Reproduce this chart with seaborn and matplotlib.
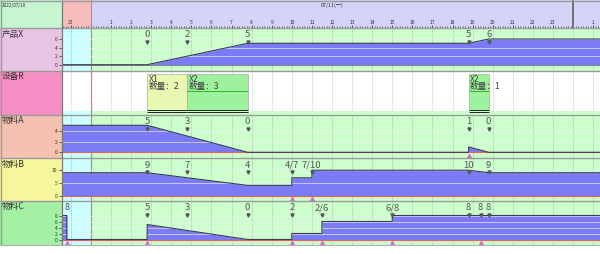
import numpy as np
import pandas as pd
import matplotlib
matplotlib.use("Agg")
import matplotlib.pyplot as plt
import seaborn as sns
from matplotlib.patches import Rectangle

sns.set_theme(style="white")
plt.rcParams['font.family'] = ['Noto Sans CJK SC', 'DejaVu Sans']

# ---------------- data ----------------
date_label = "2022/07/10"
day_label = "07/11(一)"
hour_tick_pos = [-1] + list(range(1, 24)) + [25]
hour_tick_labels = ["23"] + [str(i) for i in range(1, 24)] + ["1"]

row_names = ["产品X", "设备R", "物料A", "物料B", "物料C"]

# 产品X inventory curve (hour, qty)
x_t = [-1.5, 2.8, 7.8, 18.8, 19.8, 25.5]
x_v = [0, 0, 5, 5, 6, 6]
x_lab_t = [2.8, 4.8, 7.8, 18.8, 19.8]
x_lab = ["0", "2", "5", "5", "6"]
x_in_t = []

# 物料A
a_t = [-1.5, 2.8, 7.8, 18.8, 18.8, 19.8, 25.5]
a_v = [5, 5, 0, 0, 1, 0, 0]
a_lab_t = [2.8, 4.8, 7.8, 18.8, 19.8]
a_lab = ["5", "3", "0", "1", "0"]
a_in_t = [18.8]

# 物料B
b_t = [-1.5, 2.8, 4.8, 7.8, 10, 10, 11, 11, 18.8, 19.8, 25.5]
b_v = [9, 9, 7, 4, 4, 7, 7, 10, 10, 9, 9]
b_lab_t = [2.8, 4.8, 7.8, 10, 11, 18.8, 19.8]
b_lab = ["9", "7", "4", "4/7", "7/10", "10", "9"]
b_in_t = [10, 11]

# 物料C
c_t = [-1.5, -1.2, -1.2, 2.8, 2.8, 7.8, 10, 10, 11.5, 11.5, 15, 15, 25.5]
c_v = [8, 8, 0, 0, 5, 0, 0, 2, 2, 6, 6, 8, 8]
c_lab_t = [-1.2, 2.8, 4.8, 7.8, 10, 11.5, 15, 18.8, 19.4, 19.8]
c_lab = ["8", "5", "3", "0", "2", "2/6", "6/8", "8", "8", "8"]
c_in_t = [-1.2, 2.8, 10, 11.5, 15, 19.4]

# 设备R jobs
eq_names = ["X1", "X2", "X2"]
eq_start = [2.8, 4.8, 18.8]
eq_end = [4.8, 7.8, 19.8]
eq_qty = [2, 3, 1]

# ---------------- layout ----------------
W, H = 600, 254
PX0, PXH = 90.9, 20.09
XMIN = (62 - PX0) / PXH
XMAX = (600 - PX0) / PXH

fig = plt.figure(figsize=(6, 2.54), dpi=100)


def ax_at(x0, y0, x1, y1, **kw):
    return fig.add_axes([x0 / W, 1 - y1 / H, (x1 - x0) / W, (y1 - y0) / H], **kw)


GREEN = "#ccffcc"
CYAN = "#ccffff"
BLUE = "#7b7bf6"
REDV = "#e57a7a"
GRID = "#b9dcb9"

# background axes (pixel coords)
bg = ax_at(0, 0, 600, 254)
bg.set_xlim(0, 600)
bg.set_ylim(254, 0)
bg.axis("off")
bg.add_patch(Rectangle((0, 0), 600, 254, color="white", lw=0))
bg.add_patch(Rectangle((0, 0), 62, 28, color="#c6f5d2", lw=0))
bg.text(2, 2.5, date_label, fontsize=3.3, va="top", ha="left", color="#303030")
row_px = [(28, 71), (71, 115), (115, 158), (158, 201), (201, 245)]
row_cols = ["#e9c3e3", "#f78fc6", "#f5c2b2", "#f6f69c", "#a4f0a4"]
for (t0, t1), col, name in zip(row_px, row_cols, row_names):
    bg.add_patch(Rectangle((0, t0), 62, t1 - t0, color=col, lw=0))
    bg.text(2, t0 + 1.5, name, fontsize=6.2, va="top", ha="left", color="#303030")

# header axes
hdr = ax_at(62, 0, 600, 28)
hdr.set_xlim(XMIN, XMAX)
hdr.set_ylim(28, 0)
hdr.axis("off")
hdr.axvspan(XMIN, 0, color="#f7bdbd", lw=0)
hdr.axvspan(0, XMAX, color="#d4d4f8", lw=0)
for p, l in zip(hour_tick_pos, hour_tick_labels):
    hdr.text(p, 22.3, l, fontsize=3.5, ha="center", va="center", color="#303030")
hdr.text(12, 5, day_label, fontsize=3.8, ha="center", va="center", color="#303030")
minor = np.arange(-1.375, 25.4, 0.125)
hdr.vlines(minor, 26.0, 27.6, color="#404060", lw=0.5)
hdr.vlines(np.arange(-1, 26), 25.2, 27.6, color="#404060", lw=0.6)
hdr.axvline(24, color="#707070", lw=1.4)
hdr.axvline(0, color="#a08080", lw=0.6)


def style_ax(ax, yticks, ylim):
    for sp in ax.spines.values():
        sp.set_visible(False)
    ax.set_xlim(XMIN, XMAX)
    ax.set_ylim(*ylim)
    ax.set_xticks([])
    ax.set_xlabel("")
    ax.set_ylabel("")
    if yticks:
        ax.set_yticks(yticks)
        ax.set_yticklabels([str(y) for y in yticks])
        ax.tick_params(axis="y", left=True, labelsize=3.5, length=2.5, width=0.5,
                       pad=0.8, colors="#303030")
    else:
        ax.set_yticks([])


def material_row(top, bot, zero_px, ppu, t, v, lab_t, lab, in_t, yticks, zero_col):
    ax = ax_at(62, top, 600, bot)
    ax.set_facecolor(GREEN)
    ax.axvspan(XMIN, 0, color=CYAN, lw=0, zorder=0)
    for h in range(-1, 26):
        ax.axvline(h, color=GRID, lw=0.6, zorder=0.4)
    ax.axvline(0, color=REDV, lw=0.9, zorder=0.6)
    ax.fill_between(t, v, 0, color=BLUE, lw=0, zorder=1)
    sns.lineplot(x=t, y=v, estimator=None, sort=False, color="#3a3a55", lw=0.8,
                 ax=ax, zorder=3)
    for y in yticks[1:]:
        ax.axhline(y, color="#e8e8fc", lw=0.7, alpha=0.7, zorder=2)
    ax.axhline(0, color=zero_col, lw=0.8, zorder=2.5)
    tr = ax.get_xaxis_transform()
    for tt, s in zip(lab_t, lab):
        ax.annotate(s, xy=(tt, 1), xycoords=("data", "axes fraction"),
                    xytext=(0, -7), textcoords="offset pixels", fontsize=6.8,
                    ha="center", va="center", color="#555555", zorder=5)
    mk_t = [tt for tt in lab_t if tt > XMIN + 0.5]
    if mk_t:
        ax.plot(mk_t, [1 - 14 / (bot - top)] * len(mk_t), ls="none", marker="v",
                ms=2.2, color="#555555", transform=tr, zorder=5)
    if in_t:
        ax.plot(in_t, [2.5 / (bot - top)] * len(in_t), ls="none", marker="^",
                ms=3.0, color="#d070c8", transform=tr, zorder=5)
    ylim = (-(bot - zero_px) / ppu, (zero_px - top) / ppu)
    style_ax(ax, yticks, ylim)
    return ax


material_row(28, 71, 64.7, 4.28, x_t, x_v, x_lab_t, x_lab, x_in_t, [0, 2, 4, 6], "#8a8a8a")
material_row(115, 158, 152.3, 5.4, a_t, a_v, a_lab_t, a_lab, a_in_t, [0, 2, 4], "#e86060")
material_row(158, 201, 195.5, 2.53, b_t, b_v, b_lab_t, b_lab, b_in_t, [0, 5, 10], "#e86060")
material_row(201, 245, 239.5, 3.0, c_t, c_v, c_lab_t, c_lab, c_in_t, [0, 2, 4, 6, 8], "#e86060")

# equipment row
axr = ax_at(62, 71, 600, 115)
axr.set_facecolor("white")
for h in range(-1, 26):
    axr.axvline(h, color="#e2e2e2", lw=0.6, zorder=0.4)
axr.axhspan(0, 4.5 / 44, color=GREEN, lw=0, zorder=0.5)
axr.axvspan(XMIN, 0, ymax=4.5 / 44, color=CYAN, lw=0, zorder=0.55)
axr.axvline(0, color=REDV, lw=0.9, zorder=0.6)
b0, b1 = 4.7 / 44, 41.0 / 44
eq_df = pd.DataFrame({"name": eq_names, "start": eq_start, "end": eq_end, "qty": eq_qty})
eq_df["dur"] = eq_df["end"] - eq_df["start"]
eq_df["color"] = ["#e8f7b2" if n == "X1" else "#9ef29e" for n in eq_df["name"]]
axr.barh(y=[(b0 + b1) / 2] * len(eq_df), width=eq_df["dur"], left=eq_df["start"],
         height=b1 - b0, color=eq_df["color"], edgecolor="#a8a8a8", lw=0.5, zorder=2)
for _, r in eq_df.iterrows():
    axr.hlines([b0 + 0.2 / 44, b0 - 1.8 / 44], r["start"], r["end"], color="#202020", lw=0.7, zorder=3)
    if r["name"] == "X2":
        axr.hlines(0.55, r["start"], r["end"], color="#2cb82c", lw=0.7, zorder=3)
    axr.annotate(r["name"], xy=(r["start"], b1), xytext=(1.5, -0.5), textcoords="offset pixels",
                 fontsize=6.2, ha="left", va="top", color="#404040", zorder=4)
    axr.annotate("数量：%d" % r["qty"], xy=(r["start"], b1), xytext=(1.5, -8.5),
                 textcoords="offset pixels", fontsize=6.2, ha="left", va="top",
                 color="#404040", zorder=4)
style_ax(axr, None, (0, 1))

# overlay borders
ov = ax_at(0, 0, 600, 254)
ov.set_xlim(0, 600)
ov.set_ylim(254, 0)
ov.axis("off")
ov.patch.set_alpha(0)
ov.hlines([28, 71, 115, 158, 201], 0, 600, color="#9a9a9a", lw=1.0)
ov.hlines([245], 0, 600, color="#b0b0b0", lw=0.8)
ov.vlines([62.2], 0, 245, color="#7a7a7a", lw=0.9)
ov.vlines([0.5], 0, 245, color="#9a9a9a", lw=1.0)
ov.hlines([0.5], 0, 600, color="#9a9a9a", lw=1.0)

fig.savefig("out.png", dpi=100)
